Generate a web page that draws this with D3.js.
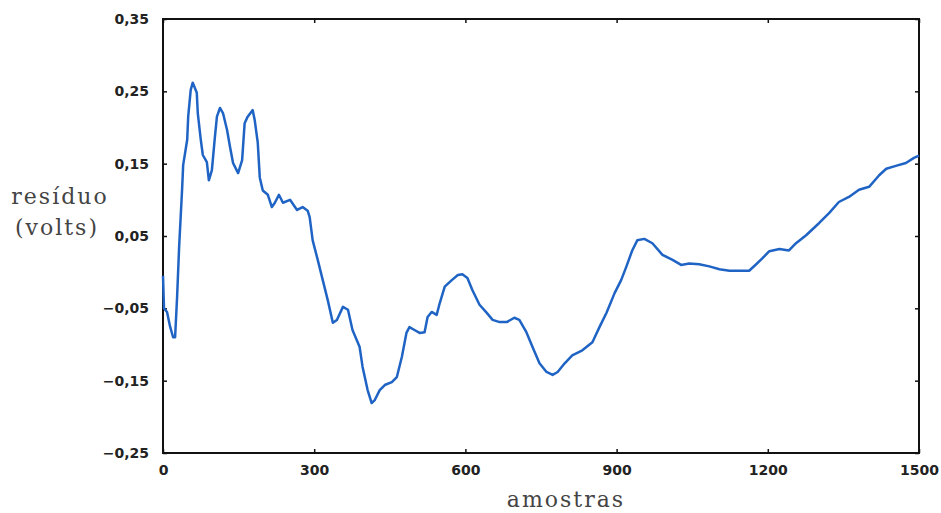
<!DOCTYPE html>
<html>
<head>
<meta charset="utf-8">
<script src="https://cdn.jsdelivr.net/npm/d3@7"></script>
<style>
  body { margin: 0; background: #fff; }
  .tick text { font-family: "DejaVu Sans", sans-serif; font-size: 14px; fill: #222; font-weight: bold; }
  .axis-title { font-family: "DejaVu Serif", serif; font-size: 22px; letter-spacing: 2px; fill: #444; }
</style>
</head>
<body>
<svg id="chart"></svg>
<script>
// amostras (x) and resíduo in volts (y)
let amostras = [0, 2, 8, 14, 20, 24, 28, 32, 38, 40, 48, 50, 55, 59, 67, 69, 75, 79, 87, 91,
  97, 103, 107, 113, 119, 127, 133, 139, 149, 157, 162, 168, 178, 182, 188, 192, 198, 208, 216, 222,
  230, 238, 252, 266, 277, 287, 291, 297, 307, 317, 327, 337, 345, 357, 367, 376, 390, 396, 406, 414,
  420, 430, 440, 454, 464, 474, 483, 489, 499, 509, 519, 525, 533, 543, 549, 559, 573, 585, 594, 604,
  614, 628, 642, 654, 668, 682, 697, 707, 721, 733, 747, 761, 773, 783, 797, 812, 832, 852, 866, 880,
  896, 909, 919, 931, 941, 955, 971, 991, 1011, 1028, 1044, 1064, 1084, 1104, 1124, 1143, 1163, 1177, 1189, 1203,
  1223, 1242, 1256, 1276, 1302, 1322, 1341, 1361, 1381, 1401, 1421, 1435, 1454, 1474, 1490, 1500];
let residuo = [-0.005, -0.05, -0.055, -0.075, -0.09, -0.09, -0.034, 0.035, 0.116, 0.148, 0.183, 0.215, 0.252, 0.262, 0.248, 0.22, 0.183, 0.162, 0.152, 0.127,
  0.141, 0.187, 0.215, 0.227, 0.22, 0.197, 0.173, 0.151, 0.137, 0.155, 0.206, 0.215, 0.224, 0.21, 0.179, 0.131, 0.113, 0.107, 0.09, 0.096,
  0.107, 0.096, 0.1, 0.086, 0.09, 0.085, 0.076, 0.044, 0.017, -0.011, -0.039, -0.07, -0.066, -0.048, -0.052, -0.08, -0.103, -0.131, -0.163, -0.181,
  -0.177, -0.163, -0.156, -0.152, -0.145, -0.117, -0.084, -0.076, -0.08, -0.084, -0.083, -0.062, -0.055, -0.059, -0.043, -0.02, -0.011, -0.004, -0.003, -0.008,
  -0.025, -0.045, -0.056, -0.066, -0.069, -0.069, -0.063, -0.066, -0.083, -0.103, -0.126, -0.138, -0.142, -0.138, -0.126, -0.115, -0.108, -0.097, -0.076, -0.056,
  -0.029, -0.011, 0.007, 0.03, 0.044, 0.046, 0.04, 0.024, 0.017, 0.01, 0.012, 0.011, 0.008, 0.004, 0.002, 0.002, 0.002, 0.011, 0.019, 0.029,
  0.032, 0.03, 0.04, 0.051, 0.068, 0.082, 0.097, 0.104, 0.114, 0.118, 0.134, 0.143, 0.147, 0.151, 0.158, 0.161];

let xTicks = [0, 300, 600, 900, 1200, 1500];
let yTicks = [-0.25, -0.15, -0.05, 0.05, 0.15, 0.25, 0.35];

let width = 941;
let height = 513;
let plotLeft = 163, plotRight = 919, plotTop = 19, plotBottom = 453;

let svg = d3.select("#chart").attr("width", width).attr("height", height);

let ptBR = d3.formatLocale({ decimal: ",", thousands: ".", grouping: [3], currency: ["R$", ""] });
let fmt = ptBR.format(".2f");

let xScale = d3.scaleLinear().domain([0, 1500]).range([plotLeft, plotRight]);
let yScale = d3.scaleLinear().domain([-0.25, 0.35]).range([plotBottom, plotTop]);

let styleAxis = g => {
  g.selectAll(".domain").remove();
  g.selectAll(".tick line").attr("stroke", "#111").attr("stroke-width", 1.5);
};

svg.append("g")
  .attr("transform", `translate(0, ${plotBottom})`)
  .call(d3.axisBottom(xScale).tickValues(xTicks).tickSize(-4).tickPadding(12).tickFormat(d3.format("d")))
  .call(styleAxis);

svg.append("g")
  .attr("transform", `translate(0, ${plotTop})`)
  .call(d3.axisTop(xScale).tickValues(xTicks).tickSize(-4).tickFormat(""))
  .call(styleAxis);

svg.append("g")
  .attr("transform", `translate(${plotLeft}, 0)`)
  .call(d3.axisLeft(yScale).tickValues(yTicks).tickSize(-4).tickPadding(14).tickFormat(fmt))
  .call(styleAxis);

svg.append("g")
  .attr("transform", `translate(${plotRight}, 0)`)
  .call(d3.axisRight(yScale).tickValues(yTicks).tickSize(-4).tickFormat(""))
  .call(styleAxis);

svg.append("rect")
  .attr("x", plotLeft).attr("y", plotTop)
  .attr("width", plotRight - plotLeft).attr("height", plotBottom - plotTop)
  .attr("fill", "none").attr("stroke", "#111").attr("stroke-width", 2);

let line = d3.line()
  .x((d, i) => xScale(amostras[i]))
  .y(d => yScale(d));

svg.append("path")
  .datum(residuo)
  .attr("d", line)
  .attr("fill", "none")
  .attr("stroke", "#1f64c4")
  .attr("stroke-width", 2.5)
  .attr("stroke-linejoin", "round");

svg.append("text").attr("class", "axis-title")
  .attr("x", 60).attr("y", 204).attr("text-anchor", "middle").text("resíduo");
svg.append("text").attr("class", "axis-title")
  .attr("x", 57).attr("y", 235).attr("text-anchor", "middle").text("(volts)");
svg.append("text").attr("class", "axis-title")
  .attr("x", 566).attr("y", 507).attr("text-anchor", "middle").text("amostras");
</script>
</body>
</html>
